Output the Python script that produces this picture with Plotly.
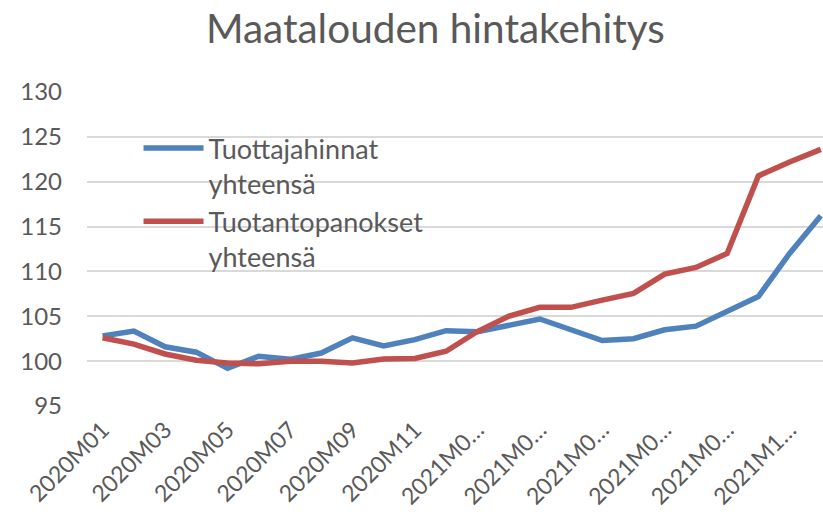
import plotly.graph_objects as go

months = ["2020M01", "2020M02", "2020M03", "2020M04", "2020M05", "2020M06",
          "2020M07", "2020M08", "2020M09", "2020M10", "2020M11", "2020M12",
          "2021M01", "2021M02", "2021M03", "2021M04", "2021M05", "2021M06",
          "2021M07", "2021M08", "2021M09", "2021M10", "2021M11", "2021M12"]

tuottajahinnat = [102.8, 103.35, 101.6, 101.0, 99.2, 100.55, 100.2, 100.9,
                  102.6, 101.7, 102.4, 103.4, 103.27, 104.0, 104.7, 103.5,
                  102.3, 102.5, 103.5, 103.9, 105.6, 107.2, 112.0, 116.2]

tuotantopanokset = [102.6, 101.9, 100.8, 100.1, 99.8, 99.7, 100.0, 100.0,
                    99.8, 100.25, 100.3, 101.1, 103.3, 105.0, 106.0, 106.0,
                    106.8, 107.55, 109.7, 110.45, 112.0, 120.65, 122.2, 123.6]

tick_idx = [0, 2, 4, 6, 8, 10, 12, 14, 16, 18, 20, 22]
tick_labels = ["2020M01", "2020M03", "2020M05", "2020M07", "2020M09", "2020M11",
               "2021M0…", "2021M0…", "2021M0…", "2021M0…", "2021M0…", "2021M1…"]

y_ticks = [95, 100, 105, 110, 115, 120, 125, 130]

FONT = "Lato"
GREY = "#595959"

x = list(range(len(months)))

fig = go.Figure()
fig.add_trace(go.Scatter(
    x=x, y=tuottajahinnat, mode="lines", name="Tuottajahinnat<br>yhteensä",
    line=dict(color="#4F81BD", width=5.5), customdata=months,
    hovertemplate="%{customdata}: %{y}<extra></extra>"))
fig.add_trace(go.Scatter(
    x=x, y=tuotantopanokset, mode="lines", name="Tuotantopanokset<br>yhteensä",
    line=dict(color="#C0504D", width=5.5), customdata=months,
    hovertemplate="%{customdata}: %{y}<extra></extra>"))

fig.update_layout(
    width=823, height=519,
    margin=dict(l=87, r=0, t=92, b=113, autoexpand=False),
    paper_bgcolor="white", plot_bgcolor="white",
    title=dict(text="Maatalouden hintakehitys", x=0.529, xanchor="center",
               y=0.945, yanchor="middle",
               font=dict(family=FONT, size=40.5, color=GREY)),
    font=dict(family=FONT, color=GREY),
    showlegend=True,
    legend=dict(x=0.07, y=0.898, xanchor="left", yanchor="top",
                bgcolor="rgba(0,0,0,0)", valign="top",
                font=dict(family=FONT, size=27, color=GREY),
                itemwidth=60, tracegroupgap=7),
)

fig.update_xaxes(
    range=[-0.5, 23.07], tickmode="array", tickvals=tick_idx, ticktext=tick_labels,
    tickangle=-45, tickfont=dict(family=FONT, size=23, color=GREY),
    showgrid=False, zeroline=False, showline=False, ticks="", automargin=False,
    ticklabelstandoff=5)

fig.update_yaxes(
    range=[95, 130], tickmode="array", tickvals=y_ticks,
    tickfont=dict(family=FONT, size=24, color=GREY),
    showgrid=True, gridcolor="#D9D9D9", gridwidth=1.5,
    zeroline=False, showline=False, ticks="", ticklabelstandoff=24, automargin=False)

fig.write_html("out.html", config={"displayModeBar": False},
               post_script="document.body.style.margin='0';document.body.style.overflow='hidden';")
